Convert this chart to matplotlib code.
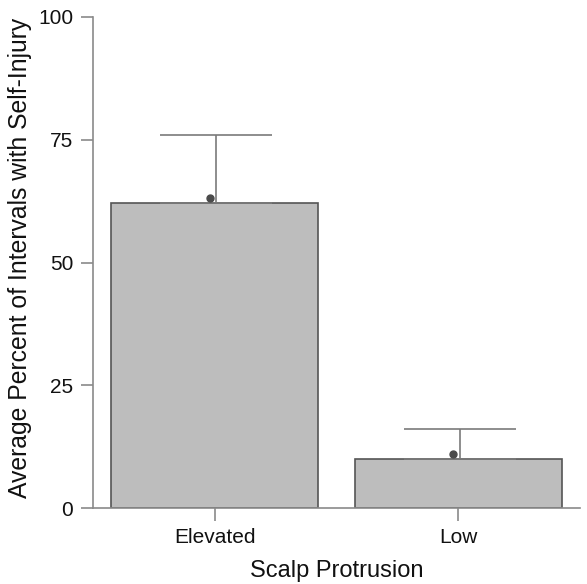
import numpy as np
import matplotlib
matplotlib.use("Agg")
import matplotlib.pyplot as plt

plt.rcParams['font.family'] = ['Liberation Sans', 'DejaVu Sans']

# data
categories = ["Elevated", "Low"]
means = [62.1, 10.0]
upper_err = [13.8, 6.2]
points = [63.1, 11.0]

fig = plt.figure(figsize=(5.87, 5.84), dpi=100)
ax = fig.add_axes([0.158, 0.130, 0.830, 0.841])

x = np.arange(len(categories))
ax.bar(x, means, width=0.85, color="#bdbdbd", edgecolor="#555555", linewidth=1.2, zorder=2)
ax.errorbar(x + 0.008, means, yerr=[np.zeros(len(means)), upper_err], fmt="none",
            ecolor="#7a7a7a", elinewidth=1.2, capsize=40, capthick=1.2, zorder=3)
ax.plot(x - 0.02, points, "o", color="#4a4a4a", markersize=5, zorder=4)

ax.set_xlim(-0.5, 1.5)
ax.set_ylim(0, 100)
ax.set_yticks([0, 25, 50, 75, 100])
ax.set_xticks(x)
ax.set_xticklabels(categories)

for s in ["top", "right"]:
    ax.spines[s].set_visible(False)
for s in ["left", "bottom"]:
    ax.spines[s].set_color("#8a8a8a")
    ax.spines[s].set_linewidth(1.2)
ax.tick_params(axis="both", colors="#8a8a8a", length=9, width=1.2, labelsize=15,
               labelcolor="#111111", pad=5)

ax.set_ylabel("Average Percent of Intervals with Self-Injury", fontsize=17.8, color="#111111")
ax.set_xlabel("Scalp Protrusion", fontsize=17, color="#111111")
ax.yaxis.set_label_coords(-0.125, 0.51)
ax.xaxis.set_label_coords(0.5, -0.106)

fig.savefig("out.png", dpi=100)
